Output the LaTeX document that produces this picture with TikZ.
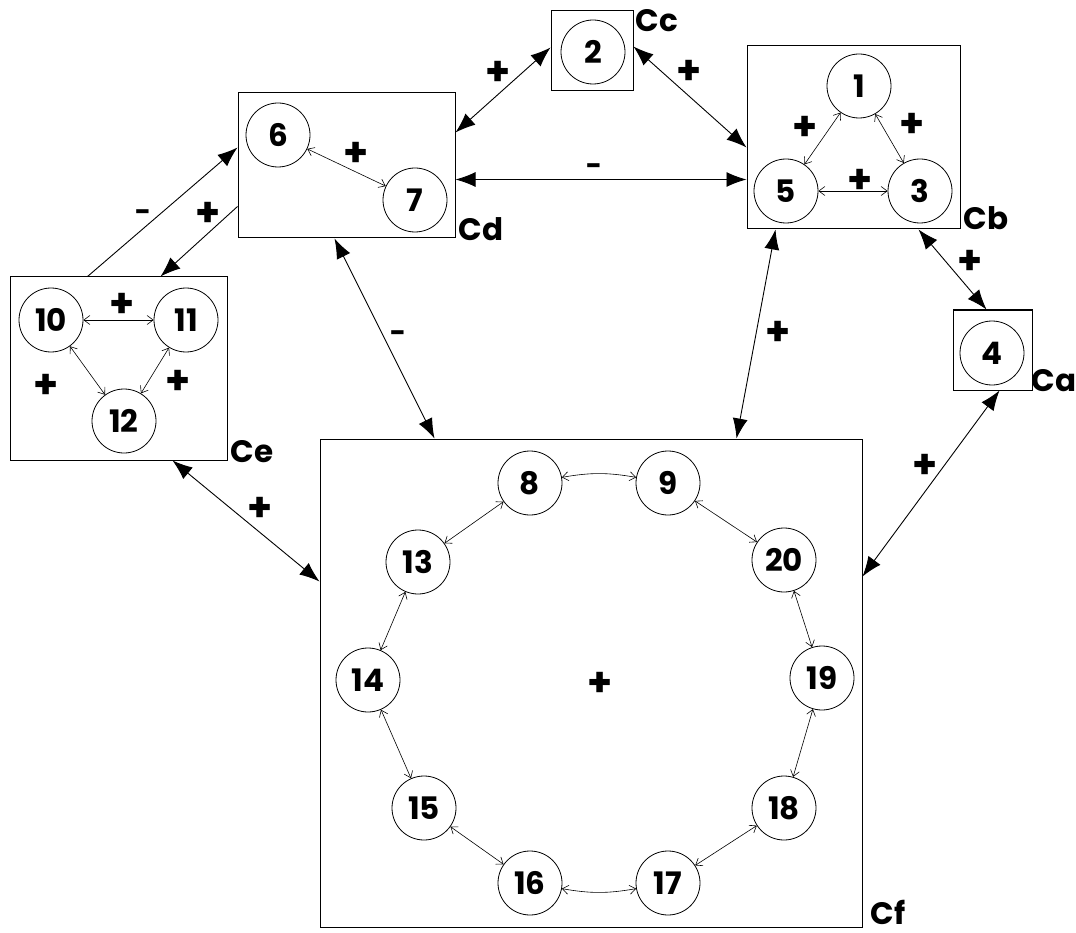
\documentclass[tikz,border=0pt]{standalone}
\usepackage{fontspec}
\setmainfont{Poppins}
\usetikzlibrary{arrows.meta,calc}
\begin{document}
\begin{tikzpicture}[x=1pt,y=-1pt,
  font=\fontsize{31}{35}\selectfont\bfseries,
  circ/.style={draw, circle, minimum size=64pt, inner sep=0pt, line width=0.8pt},
  cbox/.style={draw, rectangle, inner sep=0pt, line width=1pt},
  biglink/.style={{Latex[length=20pt,width=15pt]}-{Latex[length=20pt,width=15pt]}, line width=0.9pt},
  onelink/.style={-{Latex[length=20pt,width=15pt]}, line width=0.9pt},
  smalllink/.style={{Straight Barb[length=6pt,width=9pt]}-{Straight Barb[length=6pt,width=9pt]}, line width=0.6pt},
  plussign/.style={inner sep=0pt, font=\fontsize{40}{44}\selectfont\bfseries},
  minussign/.style={inner sep=0pt, font=\fontsize{28}{32}\selectfont\bfseries},
  tag/.style={inner sep=0pt}]

% canvas
\fill[white] (0,0) rectangle (1076,933);
\useasboundingbox (0,0) rectangle (1076,933);

% compartments
\node[cbox, minimum width=82pt,  minimum height=80pt]  (Cc) at (592,51) {};
\node[cbox, minimum width=217pt, minimum height=145pt] (Cd) at (346.5,165.5) {};
\node[cbox, minimum width=213pt, minimum height=183pt] (Cb) at (853.5,137.5) {};
\node[cbox, minimum width=79pt,  minimum height=80pt]  (Ca) at (992.5,350) {};
\node[cbox, minimum width=217pt, minimum height=183pt] (Ce) at (118.5,368.5) {};
\node[cbox, minimum width=542pt, minimum height=488pt] (Cf) at (591,683) {};

% compartment names
\node[tag] (tCc) at (657,21)  {Cc};
\node[tag] (tCd) at (481,229) {Cd};
\node[tag] (tCb) at (986,218) {Cb};
\node[tag] (tCa) at (1054,381) {Ca};
\node[tag] (tCe) at (252,452) {Ce};
\node[tag] (tCf) at (888,912) {Cf};

% species
\node[circ] (n2)  at (593,52)  {2};
\node[circ] (n6)  at (278,135) {6};
\node[circ] (n7)  at (415,200) {7};
\node[circ] (n1)  at (859,86)  {1};
\node[circ] (n5)  at (786,191) {5};
\node[circ] (n3)  at (920,191) {3};
\node[circ] (n4)  at (992,353) {4};
\node[circ] (n10) at (51,320)  {10};
\node[circ] (n11) at (186,320) {11};
\node[circ] (n12) at (124,421) {12};
\node[circ] (n8)  at (530,483) {8};
\node[circ] (n9)  at (668,483) {9};
\node[circ] (n13) at (418,562) {13};
\node[circ] (n20) at (784,560) {20};
\node[circ] (n14) at (368,680) {14};
\node[circ] (n19) at (822,678) {19};
\node[circ] (n15) at (424,808) {15};
\node[circ] (n18) at (784,808) {18};
\node[circ] (n16) at (530,883) {16};
\node[circ] (n17) at (668,883) {17};

% links between compartments
\draw[biglink] ([yshift=-40pt]Cd.north east) -- ([yshift=-37pt]Cc.north west);
\draw[biglink] ([yshift=-36pt]Cc.north east) -- ([yshift=-102pt]Cb.north west);
\draw[biglink] ([yshift=-87pt]Cd.north east) -- ([yshift=-134pt]Cb.north west);
\draw[biglink] ([xshift=-42pt]Cb.south east) -- ([xshift=34pt]Ca.north west);
\draw[biglink] ([xshift=29pt]Cb.south west) -- ([xshift=417pt]Cf.north west);
\draw[biglink] ([xshift=47pt]Ca.south west) -- ([yshift=-138pt]Cf.north east);
\draw[biglink] ([xshift=97pt]Cd.south west) -- ([xshift=115pt]Cf.north west);
\draw[biglink] ([xshift=163pt]Ce.south west) -- ([yshift=-143pt]Cf.north west);
\draw[onelink] ([xshift=78pt]Ce.north west) -- ([yshift=-55pt]Cd.north west);
\draw[onelink] ([yshift=-114pt]Cd.north west) -- ([xshift=151pt]Ce.north west);

% links inside compartments
\draw[smalllink] (n6) -- (n7);
\draw[smalllink] (n1) -- (n5);
\draw[smalllink] (n1) -- (n3);
\draw[smalllink] (n5) -- (n3);
\draw[smalllink] (n10) -- (n11);
\draw[smalllink] (n10) -- (n12);
\draw[smalllink] (n11) -- (n12);
\draw[smalllink] (n8) to[bend left=10] (n9);
\draw[smalllink] (n9) -- (n20);
\draw[smalllink] (n20) -- (n19);
\draw[smalllink] (n19) -- (n18);
\draw[smalllink] (n18) -- (n17);
\draw[smalllink] (n17) to[bend left=10] (n16);
\draw[smalllink] (n16) -- (n15);
\draw[smalllink] (n15) -- (n14);
\draw[smalllink] (n14) -- (n13);
\draw[smalllink] (n13) -- (n8);

% signs
\node[plussign]  (s1)  at (498,73)  {+};
\node[plussign]  (s2)  at (689,72)  {+};
\node[minussign] (s3)  at (594,170) {-};
\node[plussign]  (s4)  at (356,154) {+};
\node[plussign]  (s5)  at (805,128) {+};
\node[plussign]  (s6)  at (912,125) {+};
\node[plussign]  (s7)  at (860,181) {+};
\node[plussign]  (s8)  at (970,262) {+};
\node[plussign]  (s9)  at (778,333) {+};
\node[plussign]  (s10) at (925,466) {+};
\node[minussign] (s11) at (398,337) {-};
\node[minussign] (s12) at (143,216) {-};
\node[plussign]  (s13) at (208,214) {+};
\node[plussign]  (s14) at (122,305) {+};
\node[plussign]  (s15) at (46,386)  {+};
\node[plussign]  (s16) at (178,382) {+};
\node[plussign]  (s17) at (260,509) {+};
\node[plussign]  (s18) at (600,684) {+};
\end{tikzpicture}
\end{document}
